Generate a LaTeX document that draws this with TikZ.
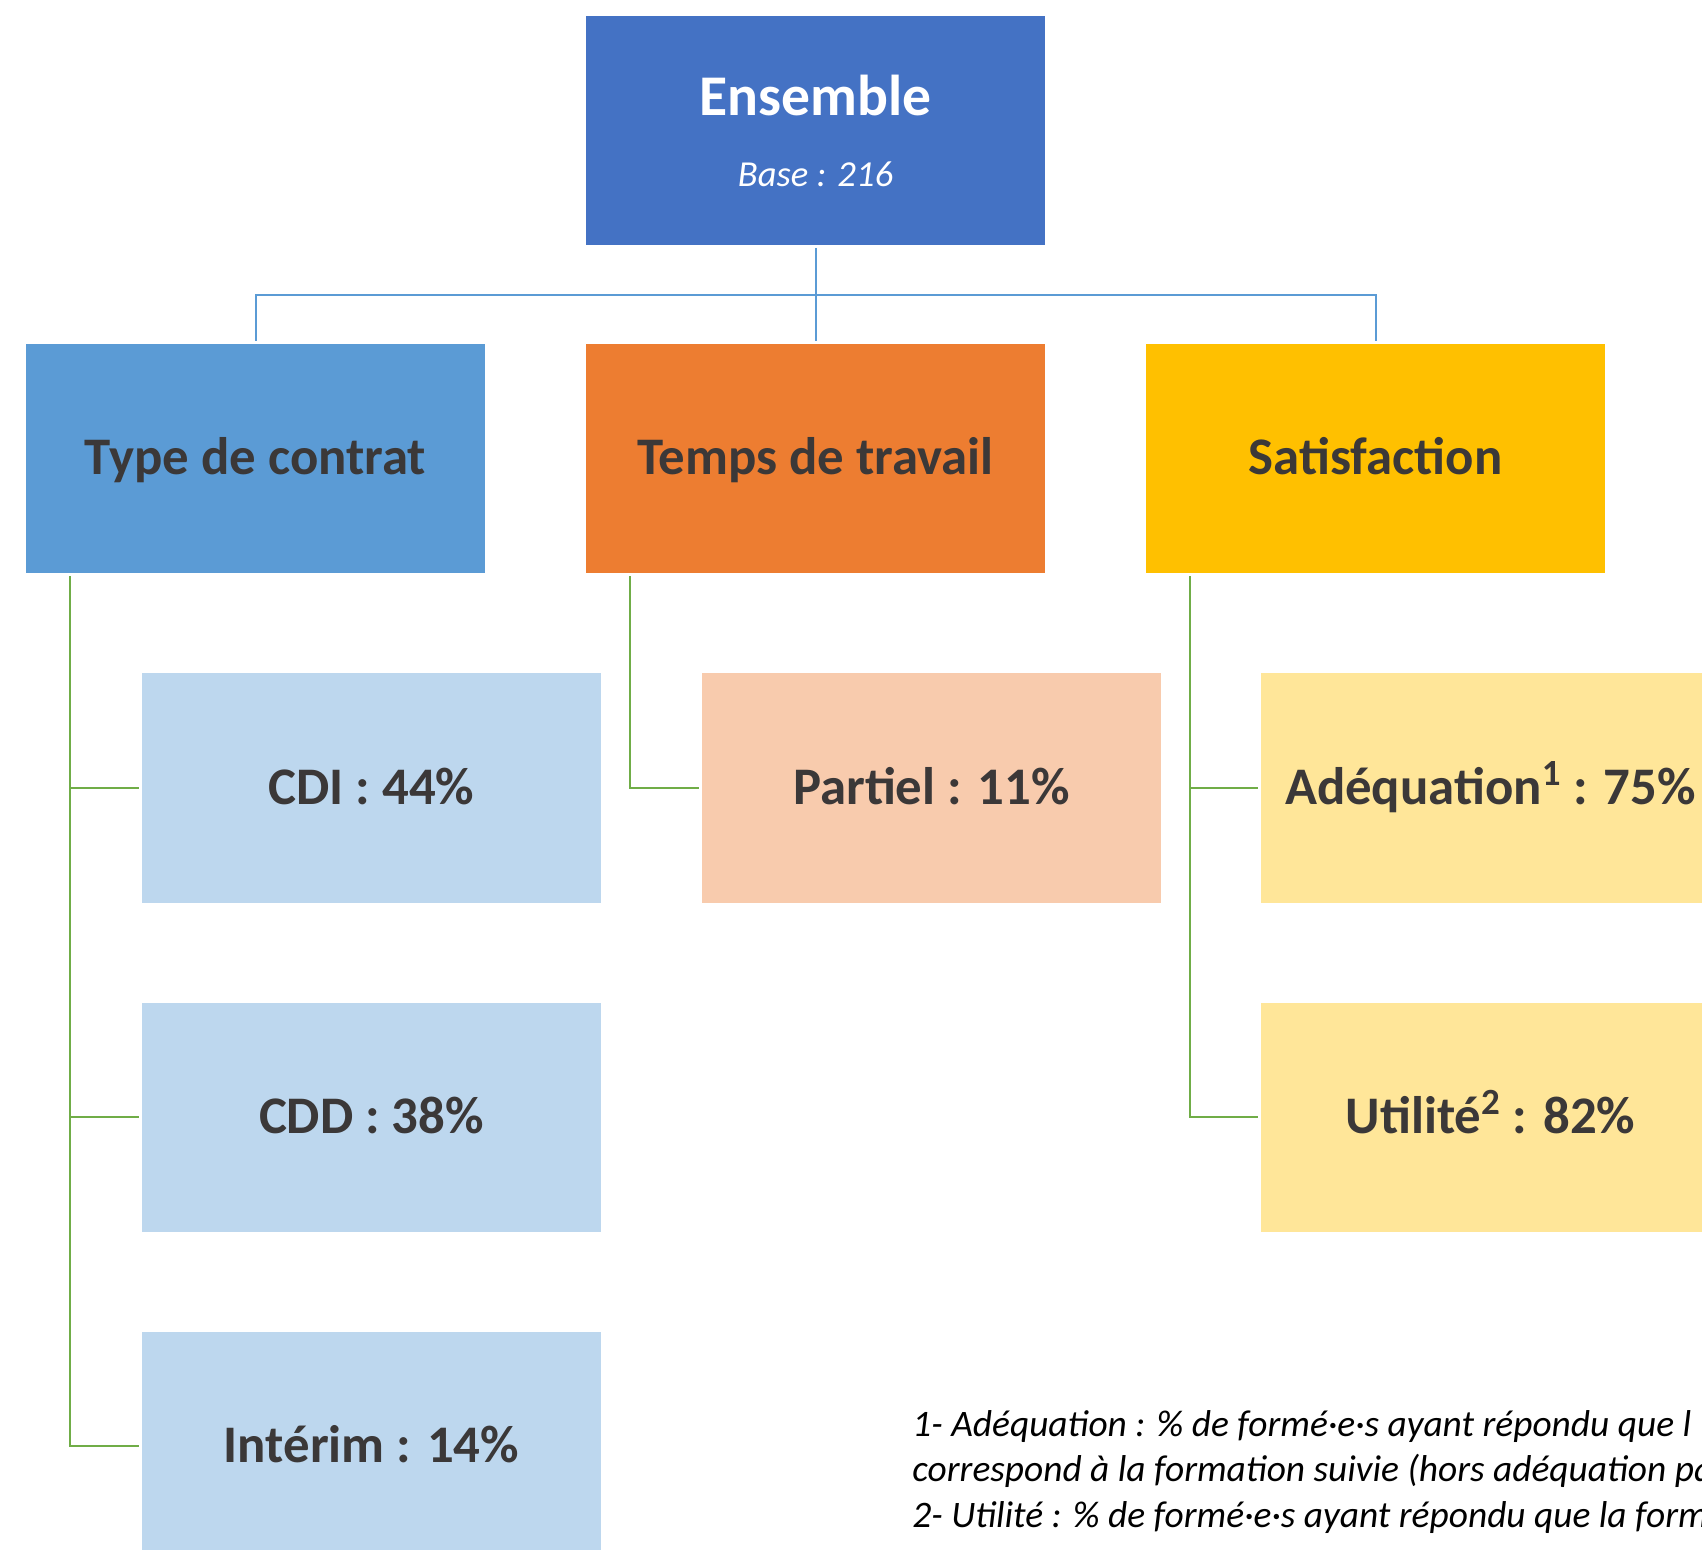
\documentclass[tikz,border=0pt]{standalone}
\usepackage{fontspec}
\setmainfont{Carlito}
\usetikzlibrary{positioning}
\definecolor{ensblue}{HTML}{4472C4}
\definecolor{midblue}{HTML}{5B9BD5}
\definecolor{midorange}{HTML}{ED7D31}
\definecolor{midgold}{HTML}{FFC000}
\definecolor{paleblue}{HTML}{BDD7EE}
\definecolor{paleorange}{HTML}{F8CBAD}
\definecolor{palegold}{HTML}{FFE699}
\definecolor{txtgrey}{HTML}{3B3838}
\definecolor{lngreen}{HTML}{70AD47}
\begin{document}
\begin{tikzpicture}[x=0.5pt,y=-0.5pt]
\tikzstyle{card}=[rectangle,minimum width=229.5pt,minimum height=114.5pt,inner sep=0pt,outer sep=1.5pt,align=center]
\tikzstyle{bx}=[card,text=txtgrey,text height=22pt,text depth=6pt,font=\fontsize{26.4}{32}\selectfont\bfseries]
\tikzstyle{bl}=[draw=midblue,line width=1pt]
\tikzstyle{gr}=[draw=lngreen,line width=1pt]
\useasboundingbox (0,0) rectangle (1702,1550);
\clip (0,0) rectangle (1702,1550);
% top level
\node [card,fill=ensblue,text=white,font=\fontsize{28.8}{35.5}\selectfont\bfseries] (ens) at (815.5,130.5)
  {Ensemble\\ {\fontsize{18.3}{22}\selectfont\mdseries\itshape Base : 216}};
% categories
\node [bx,fill=midblue] (type) at (255.5,459) {Type de contrat};
\node [bx,fill=midorange] (temps) at (815.5,459) {Temps de travail};
\node [bx,fill=midgold] (satis) at (1375.5,459) {Satisfaction};
% values
\node [bx,fill=paleblue] (cdi) at (371.5,788) {CDI : 44\%};
\node [bx,fill=paleblue] (cdd) at (371.5,1117) {CDD : 38\%};
\node [bx,fill=paleblue] (interim) at (371.5,1446) {Intérim : 14\%};
\node [bx,fill=paleorange] (partiel) at (931.5,788) {Partiel : 11\%};
\node [bx,fill=palegold] (adeq) at (1490.5,788) {Adéquation\textsuperscript{1} : 75\%};
\node [bx,fill=palegold] (util) at (1490.5,1117) {Utilité\textsuperscript{2} : 82\%};
% links
\coordinate (hub) at (815.5,295);
\draw [bl] (ens) -- (hub);
\draw [bl] (hub) -| (type);
\draw [bl] (hub) -- (temps);
\draw [bl] (hub) -| (satis);
\draw [gr] ([xshift=23.5pt]type.south west) |- (cdi.west);
\draw [gr] ([xshift=23.5pt]type.south west) |- (cdd.west);
\draw [gr] ([xshift=23.5pt]type.south west) |- (interim.west);
\draw [gr] ([xshift=23.5pt]temps.south west) |- (partiel.west);
\draw [gr] ([xshift=23.5pt]satis.south west) |- (adeq.west);
\draw [gr] ([xshift=23.5pt]satis.south west) |- (util.west);
% notes
\node [anchor=base west,align=left,inner sep=0pt,font=\fontsize{18.7}{22.7}\selectfont\itshape] (note) at (912,1527)
  {1- Adéquation : \% de formé·e·s ayant répondu que l\\
   correspond à la formation suivie (hors adéquation pa\\
   2- Utilité : \% de formé·e·s ayant répondu que la form};
\end{tikzpicture}
\end{document}
